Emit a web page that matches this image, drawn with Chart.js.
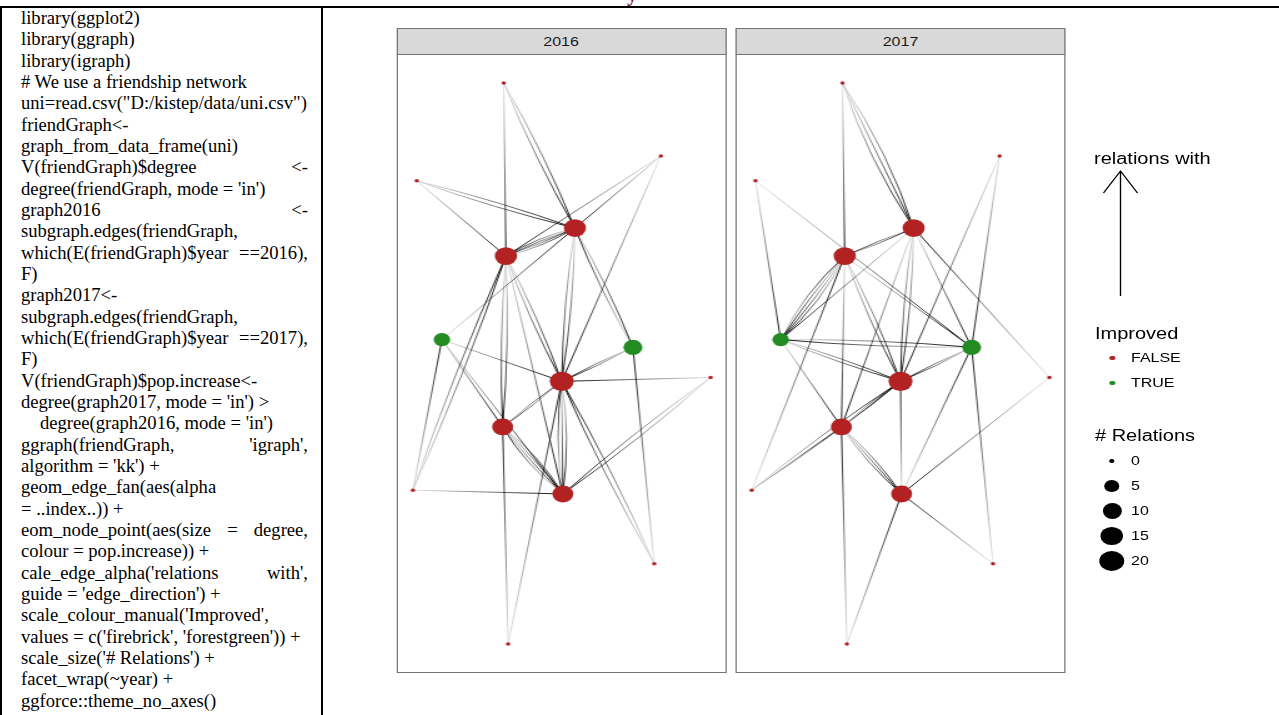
<!DOCTYPE html>
<html>
<head>
<meta charset="utf-8">
<script src="https://cdn.jsdelivr.net/npm/chart.js@4/dist/chart.umd.min.js"></script>
<style>
  html, body { margin: 0; padding: 0; background: #fff; width: 1279px; height: 715px; overflow: hidden; }
  .rule { position: absolute; background: #000; }
  #code { position: absolute; left: 21px; top: 7px; width: 287px;
          font-family: "Liberation Serif", "Times New Roman", serif; font-size: 18.6px; color: #000; }
  #code .ln { height: 21.33px; line-height: 21.33px; white-space: pre; }
  #code .just { display: flex; justify-content: space-between; }
  #fragment { position: absolute; left: 627px; top: -16px; font-family: "Liberation Serif", serif;
              font-weight: bold; font-size: 21px; line-height: 21px; color: #8b1c1c; }
  #fig { position: absolute; left: 323px; top: 0; width: 765px; height: 715px;
         transform: scaleX(1.25); transform-origin: 0 0; font-family: "Liberation Sans", Arial, sans-serif; }
  .strip { position: absolute; top: 27.5px; height: 27px; box-sizing: border-box; border: 1px solid #747474;
           background: #d9d9d9; color: #1a1a1a; font-size: 12.8px; line-height: 25px; text-align: center; }
  .panel { position: absolute; top: 54px; height: 619px; box-sizing: border-box; border: 1px solid #747474; background: #fff; }
  .panel .holder { position: absolute; left: 0; top: 0; right: 0; bottom: 0; }
  .lg { position: absolute; color: #000; white-space: pre; }
  .lg.title { font-size: 16px; line-height: 18px; }
  .lg.label { font-size: 12.8px; line-height: 14px; }
  .dot { position: absolute; border-radius: 50%; }
</style>
</head>
<body>
<div class="rule" style="left:0;top:6px;width:1279px;height:2px"></div>
<div class="rule" style="left:0;top:6px;width:2px;height:709px"></div>
<div class="rule" style="left:321px;top:6px;width:2px;height:709px"></div>
<div id="fragment">y</div>
<div id="code"></div>

<div id="fig">
  <div class="strip" id="strip0" style="left:58.5px;width:264px"></div>
  <div class="panel" style="left:58.5px;width:264px"><div class="holder"><canvas id="c2016"></canvas></div></div>
  <div class="strip" id="strip1" style="left:330px;width:264px"></div>
  <div class="panel" style="left:330px;width:264px"><div class="holder"><canvas id="c2017"></canvas></div></div>
  <div id="legend"></div>
</div>

<script>
// ---------------- R code listing shown beside the figure ----------------
const codeLines = [
  "library(ggplot2)",
  "library(ggraph)",
  "library(igraph)",
  "# We use a friendship network",
  "uni=read.csv(\"D:/kistep/data/uni.csv\")",
  "friendGraph<-",
  "graph_from_data_frame(uni)",
  "V(friendGraph)$degree <-",
  "degree(friendGraph, mode = 'in')",
  "graph2016 <-",
  "subgraph.edges(friendGraph,",
  "which(E(friendGraph)$year ==2016),",
  "F)",
  "graph2017<-",
  "subgraph.edges(friendGraph,",
  "which(E(friendGraph)$year ==2017),",
  "F)",
  "V(friendGraph)$pop.increase<-",
  "degree(graph2017, mode = 'in') >",
  "degree(graph2016, mode = 'in')",
  "ggraph(friendGraph, 'igraph',",
  "algorithm = 'kk') +",
  "geom_edge_fan(aes(alpha",
  "= ..index..)) +",
  "eom_node_point(aes(size = degree,",
  "colour = pop.increase)) +",
  "cale_edge_alpha('relations with',",
  "guide = 'edge_direction') +",
  "scale_colour_manual('Improved',",
  "values = c('firebrick', 'forestgreen')) +",
  "scale_size('# Relations') +",
  "facet_wrap(~year) +",
  "ggforce::theme_no_axes()"
];
// lines of the justified paragraph that wrap and are spread to the full width
const justifiedLines = [7, 9, 11, 15, 20, 24, 26];
const indentedLines = [19];

const codeBox = document.getElementById('code');
codeLines.forEach((txt, i) => {
  const div = document.createElement('div');
  div.className = 'ln';
  if (justifiedLines.includes(i)) {
    div.classList.add('just');
    txt.split(/\s+/).forEach(w => { const s = document.createElement('span'); s.textContent = w; div.appendChild(s); });
  } else {
    div.textContent = txt;
  }
  if (indentedLines.includes(i)) div.style.paddingLeft = '19px';
  codeBox.appendChild(div);
});

// ---------------- friendship network ----------------
const years = ['2016', '2017'];
// Kamada-Kawai layout coordinates of the 14 students
const layoutX = [-1.05, 1.82, -2.64, 0.25, -1.01, -2.18, 1.31, 0.01, 2.73, -1.07, -2.71, 0.03, 1.70, -0.97];
const layoutY = [ 5.42, 4.09,  3.64, 2.78,  2.27,  0.75, 0.61, -0.01, 0.06, -0.84, -1.99, -2.06, -3.33, -4.79];
// in-degree over both years
const degree = [0, 0, 0, 15, 15, 7, 10, 18, 0, 13, 0, 13, 0, 0];
// in-degree 2017 > in-degree 2016
const improved = [false, false, false, false, false, true, true, false, false, false, false, false, false, false];

// directed relations [from, to]; repeated pairs are drawn as a fan
const edges2016 = [
  [0,4],[0,3],[0,3],[2,3],[2,3],[2,4],[1,3],[1,4],[1,7],
  [4,3],[4,3],[3,4],[3,4],[3,6],[6,3],[3,7],[3,7],
  [4,9],[4,9],[10,4],[10,4],[4,7],[4,7],[5,7],[5,9],[5,11],[5,3],
  [10,5],[10,11],[6,7],[6,7],[12,6],[8,7],[8,11],[8,11],
  [7,9],[9,7],[7,11],[7,11],[11,7],[9,11],[9,11],[9,11],[11,9],
  [13,9],[13,7],[12,7],[12,7],[4,11]
];
const edges2017 = [
  [0,4],[0,3],[0,3],[0,3],[2,5],[2,6],[1,6],[1,7],
  [4,3],[3,4],[4,5],[4,5],[4,5],[5,4],[3,5],[4,9],[10,4],
  [4,7],[4,7],[4,6],[3,7],[3,7],[3,9],[3,6],[8,3],
  [5,6],[6,5],[5,7],[5,7],[5,9],[6,7],[6,7],[10,7],[10,7],[10,9],
  [9,7],[9,7],[11,6],[12,6],[8,11],[9,11],[9,11],[9,11],
  [13,9],[13,11],[11,7],[12,11]
];
const edgeSets = [edges2016, edges2017];

const sizeBreaks = [0, 5, 10, 15, 20];
const improvedLevels = ['FALSE', 'TRUE'];
const colours = { 'FALSE': '#b22222', 'TRUE': '#228b22' };

// size scale: radius grows with the square root of the relation count
const nodeRadius = v => 1.75 + 1.845 * Math.sqrt(v);

// 5% expansion of the layout range, like ggplot's continuous scales
function expandedRange(arr) {
  const lo = Math.min(...arr), hi = Math.max(...arr), pad = (hi - lo) * 0.05;
  return [lo - pad, hi + pad];
}
const [xMin, xMax] = expandedRange(layoutX);
const [yMin, yMax] = expandedRange(layoutY);

// edges are drawn before the nodes, fading from source (light) to target (dark)
function fanEdgePlugin(edges) {
  return {
    id: 'fanEdges',
    beforeDatasetsDraw(chart) {
      const { ctx } = chart;
      const xs = chart.scales.x, ys = chart.scales.y;
      const groups = {};
      edges.forEach(e => {
        const key = Math.min(e[0], e[1]) + '-' + Math.max(e[0], e[1]);
        (groups[key] = groups[key] || []).push(e);
      });
      ctx.save();
      ctx.lineWidth = 0.95;
      Object.values(groups).forEach(list => {
        const n = list.length;
        list.forEach(([s, t], i) => {
          const a = Math.min(s, t), b = Math.max(s, t);
          const ax = xs.getPixelForValue(layoutX[a]), ay = ys.getPixelForValue(layoutY[a]);
          const bx = xs.getPixelForValue(layoutX[b]), by = ys.getPixelForValue(layoutY[b]);
          const dx = bx - ax, dy = by - ay, len = Math.hypot(dx, dy);
          const nx = -dy / len, ny = dx / len;
          const off = (i - (n - 1) / 2) * Math.min(0.03 * len, 4.5) * 2;
          const cx = (ax + bx) / 2 + nx * off, cy = (ay + by) / 2 + ny * off;
          const sx = xs.getPixelForValue(layoutX[s]), sy = ys.getPixelForValue(layoutY[s]);
          const tx = xs.getPixelForValue(layoutX[t]), ty = ys.getPixelForValue(layoutY[t]);
          const g = ctx.createLinearGradient(sx, sy, tx, ty);
          g.addColorStop(0, 'rgba(0,0,0,0.1)');
          g.addColorStop(1, 'rgba(0,0,0,1)');
          ctx.strokeStyle = g;
          ctx.beginPath();
          ctx.moveTo(sx, sy);
          ctx.quadraticCurveTo(cx, cy, tx, ty);
          ctx.stroke();
        });
      });
      ctx.restore();
    }
  };
}

years.forEach((yr, k) => {
  document.getElementById('strip' + k).textContent = yr;
  new Chart(document.getElementById('c' + yr), {
    type: 'scatter',
    data: {
      datasets: [{
        data: layoutX.map((x, i) => ({ x: x, y: layoutY[i] })),
        pointRadius: degree.map(nodeRadius),
        pointHoverRadius: degree.map(nodeRadius),
        pointBackgroundColor: improved.map(v => colours[String(v).toUpperCase()]),
        pointBorderWidth: 0,
        clip: false
      }]
    },
    options: {
      responsive: true,
      maintainAspectRatio: false,
      animation: false,
      events: [],
      layout: { padding: 0, autoPadding: false },
      plugins: { legend: { display: false }, tooltip: { enabled: false } },
      scales: {
        x: { type: 'linear', display: false, min: xMin, max: xMax },
        y: { type: 'linear', display: false, min: yMin, max: yMax }
      }
    },
    plugins: [fanEdgePlugin(edgeSets[k])]
  });
});

// ---------------- legends ----------------
const legend = document.getElementById('legend');
function addText(cls, txt, left, cy) {
  const d = document.createElement('div');
  d.className = 'lg ' + cls;
  d.textContent = txt;
  d.style.left = left + 'px';
  d.style.top = (cy - (cls === 'title' ? 9 : 7)) + 'px';
  legend.appendChild(d);
}
function addDot(cx, cy, r, col) {
  const d = document.createElement('div');
  d.className = 'dot';
  d.style.left = (cx - r) + 'px'; d.style.top = (cy - r) + 'px';
  d.style.width = (2 * r) + 'px'; d.style.height = (2 * r) + 'px';
  d.style.background = col;
  legend.appendChild(d);
}

addText('title', 'relations with', 616.8, 159);
const svgNS = 'http://www.w3.org/2000/svg';
const svg = document.createElementNS(svgNS, 'svg');
svg.setAttribute('width', '40'); svg.setAttribute('height', '140');
svg.style.position = 'absolute'; svg.style.left = '617.6px'; svg.style.top = '165px';
const arrow = document.createElementNS(svgNS, 'path');
arrow.setAttribute('d', 'M20 131 L20 6 M6.4 28 L20 6 L33.6 28');
arrow.setAttribute('stroke', '#000'); arrow.setAttribute('stroke-width', '1.1');
arrow.setAttribute('fill', 'none');
svg.appendChild(arrow);
legend.appendChild(svg);

addText('title', 'Improved', 617.6, 334);
improvedLevels.forEach((lv, i) => {
  addDot(631.2, 358 + 25 * i, 2.4, colours[lv]);
  addText('label', lv, 646.4, 358 + 25 * i);
});

addText('title', '# Relations', 617.6, 436);
sizeBreaks.forEach((b, i) => {
  addDot(631.2, 461 + 25 * i, nodeRadius(b), '#000');
  addText('label', String(b), 646.4, 461 + 25 * i);
});
</script>
</body>
</html>
